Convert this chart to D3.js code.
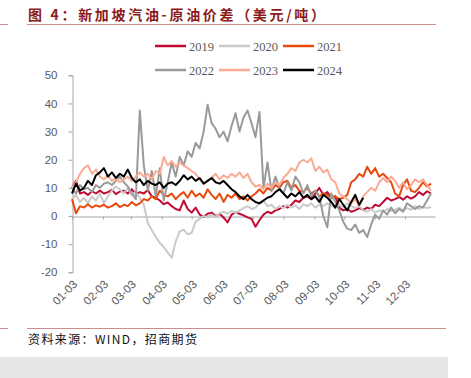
<!DOCTYPE html>
<html lang="zh">
<head>
  <meta charset="UTF-8">
  <title>新加坡汽油-原油价差</title>
  <script src="https://cdn.jsdelivr.net/npm/d3@7/dist/d3.min.js"></script>
  <style>
    html, body { margin: 0; padding: 0; background: #fff; }
    svg { display: block; }
  </style>
</head>
<body>
</body>
<script>
  // 年份 + 颜色
  const years = ['2019', '2020', '2021', '2022', '2023', '2024'];
  const colors = ['#c00a32', '#cacaca', '#e84a0e', '#9a9a9a', '#fbab94', '#000000'];

  // x 轴刻度标签 (每月3日)
  const tickLabels = ['01-03', '02-03', '03-03', '04-03', '05-03', '06-03',
    '07-03', '08-03', '09-03', '10-03', '11-03', '12-03'];
  const yTicks = [-20, -10, 0, 10, 20, 30, 40, 50];

  // 每4天一个点, 从 01-03 开始
  const v2019 = [10, 12.5, 8, 8.5, 7.5, 8.8, 8, 9, 8, 8.5, 9.3, 7.8, 8.7, 9, 8, 9.5, 7.8, 8.5, 8, 9.2,
    7, 6.5, 5.5, 4.2, 4.8, 3.5, 2.5, 2, 5.5, 2.5, 1.2, 3, 0.5, -0.3, 0.8, 1.2, 0, 0.8, -0.5, -2.3,
    0.5, 1.3, 0.8, 0.2, -0.5, -1, -3.8, -1.5, 0.5, 1.5, 1, 2, 2.5, 3.5, 3, 4, 5.5, 5, 6.5, 7,
    6, 8, 10, 7.5, 8.5, 6.5, 7, 3, 2, 2.5, 1.5, 2, 2.8, 2.2, 3, 2.5, 4, 3.5, 5, 6.5,
    5.5, 6, 6.8, 5.8, 7, 6.2, 7, 8.5, 7.5, 8.8, 8];
  const v2020 = [6, 7.5, 5, 6.5, 4.5, 7, 5.5, 8, 4.5, 7, 9, 10.5, 9.5, 8, 10, 7.5, 8.5, 6.5, 4, -2.5,
    -5, -7.5, -9.5, -11, -13, -14.8, -9, -5.5, -4.8, -6.5, -6, -2, -1, 0, -0.5, 0.5, -0.3, 1, 1.5, 0.8,
    1.8, 1, 2, 2.8, 3.5, 2.5, 3, 4.5, 5.5, 3.5, 4, 2.5, 3.5, 2.8, 4, 3, 3.8, 2.5, 4.2, 3.5,
    4.5, 3, 4, 3.5, 4.5, 3.8, 3, 4, 3.2, 4.5, 3.5, 2.8, 3.5, 2, 1.5, 2.5, 1.2, 2, 1.5, 2.5,
    1.8, 2.2, 3, 2, 2.8, 2.2, 3.5, 2.5, 3.2, 2.8, 3.2];
  const v2021 = [6, 1, 3.5, 3, 4.2, 3, 3.8, 3.3, 4, 3, 3.5, 4.5, 3.2, 4, 3.5, 5, 3.8, 4.5, 6, 5.5,
    7, 6, 9, 7.5, 7, 8, 6, 7.5, 8.5, 6.5, 9, 7, 8, 6.5, 9.5, 7.5, 6, 8, 5, 7.5,
    6.5, 8, 6, 7, 5.5, 7, 8, 9.5, 8, 10, 9, 11, 10, 12, 12.5, 10, 11, 9, 8.5, 10,
    8, 9, 7, 8, 7.5, 6.5, 7, 6, 6.5, 7.5, 12, 13, 15, 14, 17.5, 15, 17, 14, 15, 13.5,
    12, 8, 7, 11, 13, 9, 8.5, 10, 12, 10.5, 11.5];
  const v2022 = [10, 8, 11, 9.5, 10, 8.5, 11, 10, 11.5, 12, 11, 12.5, 14, 12, 10.5, 8, 6, 37.5, 18, 9,
    16, 7, 17, 5.5, 12, 19, 14, 21, 18, 23, 21, 26, 24, 30, 39.5, 33, 31, 28, 30, 26.5,
    32, 36.5, 30, 35, 37.5, 33, 28, 37, 10, 19, 9, 14, 10, 8, 12, 9, 14, 12, 8, 11,
    7, 9, 7, 0, -4, 8, 5, 2, -2, -4.5, -5, -3, -6, -5, -7.5, -3, 0.5, -1, 2, 0.5,
    3, 1, 2.5, 1.5, 4.5, 3.5, 2.5, 3.5, 3, 5.5, 8];
  const v2023 = [10, 12, 15, 17, 18, 15, 16.5, 14, 13, 14.5, 12.5, 13.5, 12, 13, 14, 12.5, 14, 15.5, 14, 15,
    13, 16, 15, 21, 18, 19.5, 17.5, 19, 18, 17, 16, 15, 13, 11.5, 12.5, 13.5, 15, 13, 14.5, 13.5,
    15, 14, 15.5, 13.5, 15, 12, 10.5, 11, 9.5, 11.5, 10, 12, 11, 13.5, 15, 17, 16, 19, 20, 19,
    20.5, 16, 17.5, 15.5, 16.5, 13, 12, 8, 7, 6, 4.5, 6, 3.5, 7, 8.5, 10, 9, 12, 13.5, 12,
    14, 12.5, 10, 12, 9.5, 11, 13, 12, 13, 11, 9];
  const v2024 = [8, 11.5, 9, 10, 12.5, 11, 14.5, 15.5, 17, 14, 15.5, 13.5, 15, 14, 16.5, 13.5, 12, 13, 11, 12.5,
    11.5, 11, 12, 10, 11.5, 12, 11, 12.5, 14.5, 13, 14, 12.5, 13.5, 11.5, 12.5, 13.5, 12, 11.5, 12.5, 11,
    9.5, 8.5, 7, 6, 7.5, 6, 5, 4.5, 5.5, 6.5, 7, 8.5, 9.5, 8, 6.5, 8, 7, 8.5, 6.5, 7.5,
    6, 7, 5, 7.5, 6.5, 5, 3, 6, 4, 2, 5, 7.5, 4, 6.5];

  const seriesValues = [v2019, v2020, v2021, v2022, v2023, v2024];

  const width = 471;
  const height = 378;
  const start = new Date(2021, 0, 3);

  const svg = d3.select('body').append('svg')
    .attr('width', width).attr('height', height)
    .attr('viewBox', [0, 0, width, height]);

  // 标题
  svg.append('text')
    .attr('x', 28).attr('y', 20)
    .attr('fill', '#8c1a1a')
    .style('font-family', '"Noto Sans CJK SC", sans-serif')
    .style('font-weight', 'bold')
    .style('font-size', '14px')
    .attr('textLength', 297).attr('lengthAdjust', 'spacing')
    .text('图 4：新加坡汽油-原油价差（美元/吨）');

  const ruleColor = '#c98f8c';
  [[0, 8, 24.5], [27, 436, 24.5], [0, 8, 328.5], [27, 446, 328.5]].forEach(d => {
    svg.append('line').attr('x1', d[0]).attr('x2', d[1]).attr('y1', d[2]).attr('y2', d[2])
      .attr('stroke', ruleColor).attr('stroke-width', 1);
  });

  svg.append('text')
    .attr('x', 28).attr('y', 344)
    .attr('fill', '#111')
    .style('font-family', '"Noto Sans CJK SC", sans-serif')
    .style('font-size', '12px')
    .attr('textLength', 169).attr('lengthAdjust', 'spacing')
    .text('资料来源：WIND，招商期货');

  svg.append('rect').attr('x', 0).attr('y', 357).attr('width', 448).attr('height', 21)
    .attr('fill', '#e6e6e6');

  // 比例尺
  const x = d3.scaleTime()
    .domain([start, new Date(2022, 0, 2)])
    .range([72, 435]);
  const y = d3.scaleLinear()
    .domain([-20, 50])
    .range([272.3, 75.3]);

  const axisColor = '#a6a6a6';
  const labelColor = '#595959';

  // y 轴
  svg.append('g')
    .attr('transform', 'translate(72.5,0)')
    .call(d3.axisLeft(y).tickValues(yTicks).tickFormat(d => String(d))
      .tickSize(4).tickSizeOuter(4).tickPadding(11))
    .call(g => g.selectAll('line, path').attr('stroke', axisColor))
    .call(g => g.selectAll('text')
      .attr('fill', labelColor)
      .style('font-family', '"Liberation Sans", Arial, sans-serif')
      .style('font-size', '11.5px'));

  // 零线 + 月刻度
  const monthDates = tickLabels.map((t, i) => new Date(2021, i, 3));
  svg.append('g')
    .attr('transform', `translate(0,${ Math.round(y(0)) + 0.5 })`)
    .call(d3.axisBottom(x).tickValues(monthDates).tickSize(3).tickSizeOuter(0).tickFormat(''))
    .call(g => g.selectAll('line, path').attr('stroke', axisColor));

  // x 标签 (底部, 旋转)
  svg.append('g')
    .selectAll('text')
    .data(monthDates)
    .join('text')
    .attr('transform', d => `translate(${ x(d) + 6 },${ 285 }) rotate(-45)`)
    .attr('text-anchor', 'end')
    .attr('fill', labelColor)
    .style('font-family', '"Liberation Sans", Arial, sans-serif')
    .style('font-size', '11.5px')
    .text((d, i) => tickLabels[i]);

  // 折线
  const line = d3.line()
    .x((d, i) => x(d3.timeDay.offset(start, i * 4)))
    .y(d => y(d));

  svg.append('g')
    .attr('fill', 'none')
    .selectAll('path')
    .data(seriesValues)
    .join('path')
    .attr('stroke', (d, i) => colors[i])
    .attr('stroke-width', 2)
    .attr('stroke-linejoin', 'round')
    .attr('d', line);

  // 图例
  const legendX = [155, 219, 283];
  const legendY = [46, 70];
  const legend = svg.append('g')
    .selectAll('g')
    .data(years)
    .join('g')
    .attr('transform', (d, i) => `translate(${ legendX[i % 3] },${ legendY[Math.floor(i / 3)] })`);
  legend.append('line')
    .attr('x1', 0).attr('x2', 31)
    .attr('stroke', (d, i) => colors[i])
    .attr('stroke-width', 2.5);
  legend.append('text')
    .attr('x', 34).attr('y', 4.5)
    .attr('fill', labelColor)
    .style('font-family', '"Liberation Serif", "Times New Roman", serif')
    .style('font-size', '12.5px')
    .text(d => d);
</script>
</html>
